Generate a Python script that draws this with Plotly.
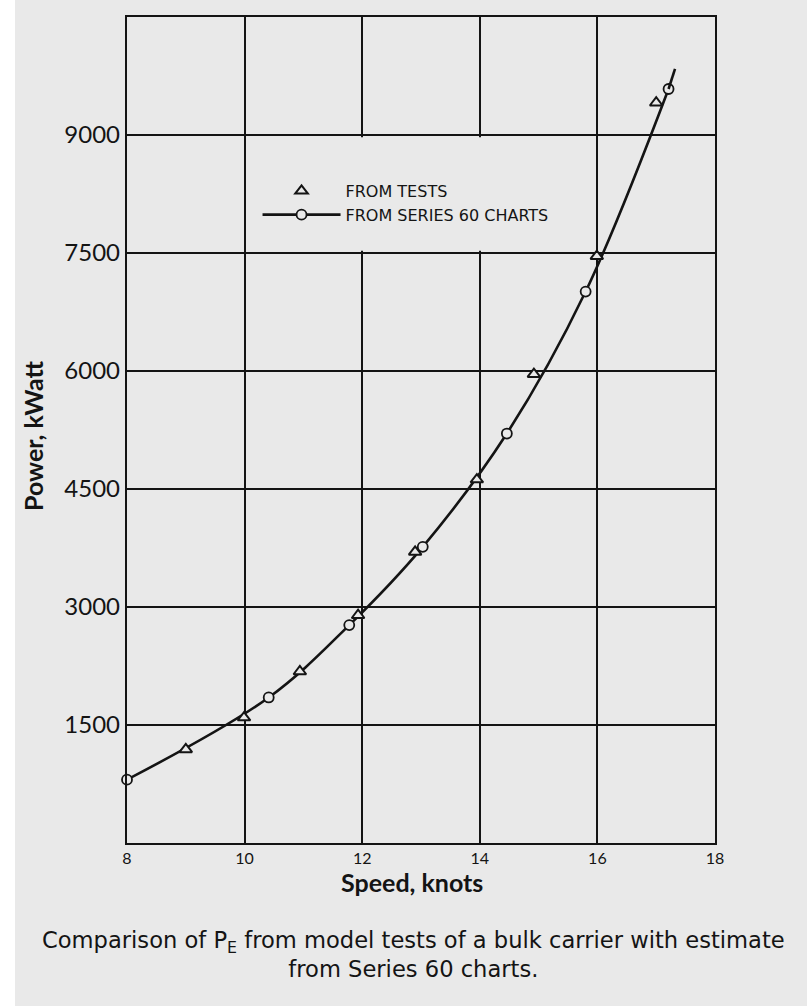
import plotly.graph_objects as go

# Model test results (triangles) and Series 60 estimate (circles)
speed_tests = [9.0, 9.99, 10.94, 11.93, 12.90, 13.95, 14.92, 15.99, 17.0]
power_tests = [1190, 1595, 2180, 2895, 3700, 4620, 5960, 7460, 9410]

speed_series60 = [8.0, 10.41, 11.78, 13.03, 14.46, 15.80, 17.21]
power_series60 = [805, 1850, 2770, 3765, 5205, 7010, 9585]

# faired curve continues slightly past the last estimate
curve_end_speed = [17.32]
curve_end_power = [9840]

x_ticks = [8, 10, 12, 14, 16, 18]
y_ticks = [1500, 3000, 4500, 6000, 7500, 9000]

PAPER = "#e9e9e9"
INK = "#141414"
FONT = "Lato"
WIDE = "DejaVu Sans"

fig = go.Figure()

# Series 60 estimate: faired curve with open circles
fig.add_trace(go.Scatter(
    x=speed_series60, y=power_series60,
    mode="lines+markers",
    name="FROM SERIES 60 CHARTS",
    legendrank=2,
    cliponaxis=False,
    line=dict(color=INK, width=2.6, shape="spline", smoothing=1.0),
    marker=dict(symbol="circle", size=10, color=PAPER,
                line=dict(color=INK, width=1.8)),
))

# short run of the curve beyond the last circle
fig.add_trace(go.Scatter(
    x=speed_series60[-1:] + curve_end_speed,
    y=power_series60[-1:] + curve_end_power,
    mode="lines",
    line=dict(color=INK, width=2.6),
    showlegend=False,
    hoverinfo="skip",
))

fig.add_trace(go.Scatter(
    x=speed_tests, y=power_tests,
    mode="markers",
    name="FROM TESTS",
    legendrank=1,
    cliponaxis=False,
    marker=dict(symbol="triangle-up", size=11, color=PAPER,
                line=dict(color=INK, width=2)),
))

# the legend sits in a blank cell with no grid behind it
fig.add_shape(type="rect", xref="x", yref="y", layer="between",
              x0=10.03, x1=15.97, y0=7530, y1=8970,
              fillcolor=PAPER, line=dict(width=0))

# unprinted strip at the left edge of the sheet
fig.add_shape(type="rect", xref="paper", yref="paper", layer="above",
              x0=-127 / 588, x1=-112 / 588, y0=-0.3, y1=1.05,
              fillcolor="white", line=dict(width=0))

# axis titles
fig.add_annotation(
    xref="paper", yref="paper", x=0.484, y=-0.0475,
    xanchor="center", yanchor="middle", showarrow=False,
    text="<b>Speed, knots</b>",
    font=dict(family=FONT, size=25, color=INK),
)
fig.add_annotation(
    xref="paper", yref="paper", x=-0.16, y=0.4927,
    xanchor="center", yanchor="middle", showarrow=False, textangle=-90,
    text="<b>Power, kWatt</b>",
    font=dict(family=FONT, size=25, color=INK),
)

# caption
fig.add_annotation(
    xref="paper", yref="paper", x=0.488, y=-0.1355,
    xanchor="center", yanchor="middle", align="center", showarrow=False,
    text="Comparison of P<sub>E</sub> from model tests of a bulk carrier with estimate<br>"
         "from Series 60 charts.",
    font=dict(family=WIDE, size=22.6, color=INK),
)

fig.update_xaxes(
    range=[8, 18], tickvals=x_ticks, ticktext=[str(v) for v in x_ticks],
    showgrid=True, gridcolor=INK, gridwidth=1.7,
    showline=True, linecolor=INK, linewidth=2.4, mirror=True,
    zeroline=False, ticks="",
    tickfont=dict(family=FONT, size=16, color=INK),
)
fig.update_yaxes(
    range=[0, 10500], tickvals=y_ticks, ticktext=[str(v) for v in y_ticks],
    showgrid=True, gridcolor=INK, gridwidth=1.7,
    showline=True, linecolor=INK, linewidth=2.4, mirror=True,
    zeroline=False, ticks="",
    tickfont=dict(family=FONT, size=24, color=INK),
)

fig.update_layout(
    width=807, height=1006,
    margin=dict(l=127, r=92, t=17, b=163),
    paper_bgcolor=PAPER, plot_bgcolor=PAPER,
    showlegend=True,
    legend=dict(x=0.222, y=0.81, xanchor="left", yanchor="top",
                bgcolor="rgba(0,0,0,0)", borderwidth=0,
                font=dict(family=WIDE, size=16, color=INK),
                itemwidth=78, tracegroupgap=0),
    font=dict(family=FONT, color=INK),
)

fig.write_html("out.html")
